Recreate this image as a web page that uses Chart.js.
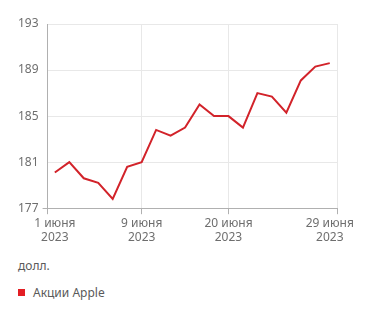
<!DOCTYPE html>
<html>
<head>
<meta charset="utf-8">
<script src="https://cdn.jsdelivr.net/npm/chart.js@4"></script>
<style>
    body { margin: 0; background: #fff; font-family: 'Noto Sans', sans-serif; }
    #wrap { position: relative; width: 371px; height: 316px; }
    #box { position: absolute; left: 0; top: 0; width: 371px; height: 247px; }
    #unit { position: absolute; left: 18px; top: 257px; font-size: 12px; color: #5a5a5a; }
    #legend { position: absolute; left: 18px; top: 284px; font-size: 12px; color: #5a5a5a; display: flex; align-items: center; }
    #legend span.sw { display: inline-block; width: 7px; height: 7px; background: #e31e24; margin-right: 8px; }
</style>
</head>
<body>
<div id="wrap">
    <div id="box"><canvas id="chart"></canvas></div>
    <div id="unit">долл.</div>
    <div id="legend"><span class="sw"></span>Акции Apple</div>
</div>
<script>
// Trading days of June 2023
const dates = ['1 июня', '2 июня', '5 июня', '6 июня', '7 июня', '8 июня', '9 июня',
    '12 июня', '13 июня', '14 июня', '15 июня', '16 июня', '20 июня', '21 июня',
    '22 июня', '23 июня', '26 июня', '27 июня', '28 июня', '29 июня'];
const year = '2023';
// Apple closing price, USD
const applePrice = [180.1, 181.0, 179.6, 179.2, 177.8, 180.6, 181.0,
    183.8, 183.3, 184.0, 186.0, 185.0, 185.0, 184.0,
    187.0, 186.7, 185.3, 188.1, 189.3, 189.6];
// x positions that get labels / gridlines
const labelIdx = [0, 6, 12, 19];
const gridIdx = [6, 12];
const yTicks = [177, 181, 185, 189, 193];

const points = applePrice.map((v, i) => ({ x: i, y: v }));
const xMin = -0.5;
const xMax = dates.length - 0.5;

const tickFont = { family: 'Noto Sans', size: 12 };
const tickGray = '#6e6e6e';

new Chart(document.getElementById('chart').getContext('2d'), {
    type: 'line',
    data: {
        datasets: [{
            label: 'Акции Apple',
            data: points,
            borderColor: '#d2232a',
            borderWidth: 2,
            pointRadius: 0,
            tension: 0,
            fill: false
        }]
    },
    options: {
        responsive: true,
        maintainAspectRatio: false,
        animation: false,
        layout: { padding: { left: 14, right: 34, top: 24, bottom: 0 } },
        plugins: { legend: { display: false }, tooltip: { enabled: false } },
        scales: {
            x: {
                type: 'linear',
                min: xMin,
                max: xMax,
                afterBuildTicks: axis => {
                    axis.ticks = [xMin, ...labelIdx, ...gridIdx, xMax]
                        .filter((v, i, a) => a.indexOf(v) === i)
                        .sort((a, b) => a - b)
                        .map(v => ({ value: v }));
                },
                grid: {
                    color: ctx => {
                        const v = ctx.tick ? ctx.tick.value : null;
                        return (gridIdx.includes(v) || v === xMax) ? '#e8e8e8' : 'rgba(0,0,0,0)';
                    },
                    tickColor: ctx => {
                        const v = ctx.tick ? ctx.tick.value : null;
                        return (gridIdx.includes(v) || v === xMin || v === xMax) ? '#b0b0b0' : 'rgba(0,0,0,0)';
                    },
                    tickLength: 6,
                    lineWidth: 1
                },
                border: { color: '#b0b0b0' },
                ticks: {
                    autoSkip: false,
                    maxRotation: 0,
                    padding: 2,
                    color: tickGray,
                    font: tickFont,
                    callback: v => labelIdx.includes(v) ? [dates[v], year] : ''
                }
            },
            y: {
                min: 177,
                max: 193,
                afterBuildTicks: axis => {
                    axis.ticks = yTicks.map(v => ({ value: v }));
                },
                grid: {
                    color: '#e8e8e8',
                    tickColor: ctx => (ctx.tick && ctx.tick.value === yTicks[0]) ? '#b0b0b0' : 'rgba(0,0,0,0)',
                    tickLength: 5
                },
                border: { color: '#b0b0b0' },
                ticks: {
                    padding: 4,
                    color: tickGray,
                    font: tickFont
                }
            }
        }
    }
});
</script>
</body>
</html>
